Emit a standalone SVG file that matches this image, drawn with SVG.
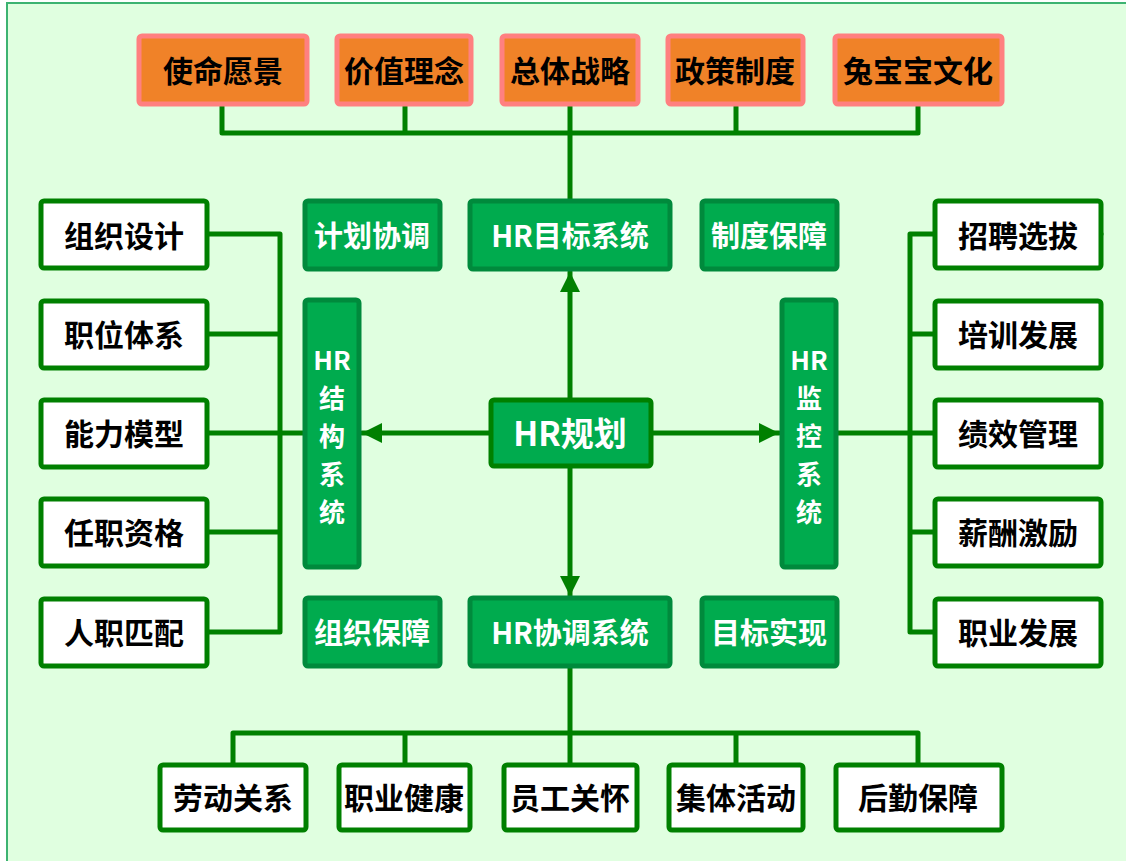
<svg xmlns="http://www.w3.org/2000/svg" width="1126" height="861" viewBox="0 0 1126 861">
<defs>
<style>
.org{fill:#F08228;stroke:#FF8080;stroke-width:5}
.gb{fill:#00AB4E;stroke:#008A3C;stroke-width:5}
.wb{fill:#FFFFFF;stroke:#008000;stroke-width:5}
.ln{fill:none;stroke:#008000;stroke-width:5;stroke-linejoin:round;stroke-linecap:round}
.tb{font-family:"Noto Sans CJK SC","Noto Sans",sans-serif;font-weight:bold;font-size:30px;fill:#000;text-anchor:middle;dominant-baseline:central}
.tw{font-family:"Noto Sans CJK SC","Noto Sans",sans-serif;font-weight:bold;font-size:29px;fill:#FFF;text-anchor:middle;dominant-baseline:central}
.tv{font-size:26px}
</style>
<marker id="ah" viewBox="0 0 10 10" refX="10" refY="5" markerWidth="4" markerHeight="4" markerUnits="strokeWidth" orient="auto">
<path d="M0,0 L10,5 L0,10 Z" fill="#008000"/>
</marker>
</defs>
<rect x="7" y="3" width="1130" height="870" fill="#E0FFE0" stroke="#3CB371" stroke-width="2"/>
<g id="connectors">
<path class="ln" d="M222,104 V133 H918 V104 M405,104 V133 M570,104 V200 M736,104 V133"/>
<path class="ln" d="M207,234 H280 V632 H207 M207,334 H280 M207,433 H304 M207,532 H280"/>
<path class="ln" d="M1101,234 H910 V632 H934 M910,334 H934 M837,433 H934 M910,532 H934"/>
<path class="ln" d="M233,764 V733 H918 V764 M405,733 V764 M570,667 V764 M736,733 V764"/>
<line class="ln" x1="570" y1="399" x2="570" y2="272" marker-end="url(#ah)"/>
<line class="ln" x1="570" y1="467" x2="570" y2="596" marker-end="url(#ah)"/>
<line class="ln" x1="490" y1="433" x2="362" y2="433" marker-end="url(#ah)"/>
<line class="ln" x1="652" y1="433" x2="779" y2="433" marker-end="url(#ah)"/>
</g>
<g id="n-smyj"><rect class="org" x="139" y="36" width="168" height="68" rx="3"/><text class="tb" x="223" y="69">使命愿景</text></g>
<g id="n-jzln"><rect class="org" x="337" y="36" width="134" height="68" rx="3"/><text class="tb" x="404" y="69">价值理念</text></g>
<g id="n-ztzl"><rect class="org" x="502" y="36" width="136" height="68" rx="3"/><text class="tb" x="570" y="69">总体战略</text></g>
<g id="n-zczd"><rect class="org" x="668" y="36" width="135" height="68" rx="3"/><text class="tb" x="735" y="69">政策制度</text></g>
<g id="n-tbbwh"><rect class="org" x="835" y="36" width="167" height="68" rx="3"/><text class="tb" x="918" y="69">兔宝宝文化</text></g>

<g id="n-jhxt"><rect class="gb" x="305" y="201" width="135" height="68" rx="3"/><text class="tw" x="372" y="234">计划协调</text></g>
<g id="n-hrmb"><rect class="gb" x="470" y="201" width="200" height="68" rx="3"/><text class="tw" x="570" y="234">HR目标系统</text></g>
<g id="n-zdbz"><rect class="gb" x="702" y="201" width="135" height="68" rx="3"/><text class="tw" x="769" y="234">制度保障</text></g>

<g id="n-hrjg"><rect class="gb" x="305" y="300" width="54" height="267" rx="3"/>
<text class="tw tv" x="332" y="358">HR</text><text class="tw tv" x="332" y="396">结</text><text class="tw tv" x="332" y="434">构</text><text class="tw tv" x="332" y="472">系</text><text class="tw tv" x="332" y="510">统</text></g>
<g id="n-hrjk"><rect class="gb" x="782" y="300" width="54" height="267" rx="3"/>
<text class="tw tv" x="809" y="358">HR</text><text class="tw tv" x="809" y="396">监</text><text class="tw tv" x="809" y="434">控</text><text class="tw tv" x="809" y="472">系</text><text class="tw tv" x="809" y="510">统</text></g>

<g id="n-hrgh"><rect x="491" y="400" width="160" height="66" rx="3" fill="#00AB4E" stroke="#008000" stroke-width="5"/><text class="tw" x="570" y="432" style="font-size:33px">HR规划</text></g>

<g id="n-zzbz"><rect class="gb" x="305" y="598" width="135" height="68" rx="3"/><text class="tw" x="372" y="631">组织保障</text></g>
<g id="n-hrxt"><rect class="gb" x="470" y="598" width="200" height="68" rx="3"/><text class="tw" x="570" y="631">HR协调系统</text></g>
<g id="n-mbsx"><rect class="gb" x="702" y="598" width="135" height="68" rx="3"/><text class="tw" x="769" y="631">目标实现</text></g>

<g id="n-zzsj"><rect class="wb" x="41" y="201" width="166" height="67" rx="3"/><text class="tb" x="124" y="234">组织设计</text></g>
<g id="n-zwtx"><rect class="wb" x="41" y="301" width="166" height="67" rx="3"/><text class="tb" x="124" y="333">职位体系</text></g>
<g id="n-nlmx"><rect class="wb" x="41" y="400" width="166" height="67" rx="3"/><text class="tb" x="124" y="432">能力模型</text></g>
<g id="n-rzzg"><rect class="wb" x="41" y="499" width="166" height="67" rx="3"/><text class="tb" x="124" y="531">任职资格</text></g>
<g id="n-rzpp"><rect class="wb" x="41" y="599" width="166" height="67" rx="3"/><text class="tb" x="124" y="631">人职匹配</text></g>

<g id="n-zpxb"><rect class="wb" x="935" y="201" width="166" height="67" rx="3"/><text class="tb" x="1018" y="234">招聘选拔</text></g>
<g id="n-pxfz"><rect class="wb" x="935" y="301" width="166" height="67" rx="3"/><text class="tb" x="1018" y="333">培训发展</text></g>
<g id="n-jxgl"><rect class="wb" x="935" y="400" width="166" height="67" rx="3"/><text class="tb" x="1018" y="432">绩效管理</text></g>
<g id="n-xcjl"><rect class="wb" x="935" y="499" width="166" height="67" rx="3"/><text class="tb" x="1018" y="531">薪酬激励</text></g>
<g id="n-zyfz"><rect class="wb" x="935" y="599" width="166" height="67" rx="3"/><text class="tb" x="1018" y="631">职业发展</text></g>

<g id="n-ldgx"><rect class="wb" x="160" y="765" width="146" height="65" rx="3"/><text class="tb" x="233" y="796">劳动关系</text></g>
<g id="n-zyjk"><rect class="wb" x="339" y="765" width="131" height="65" rx="3"/><text class="tb" x="404" y="796">职业健康</text></g>
<g id="n-yggh"><rect class="wb" x="504" y="765" width="133" height="65" rx="3"/><text class="tb" x="570" y="796">员工关怀</text></g>
<g id="n-jthd"><rect class="wb" x="669" y="765" width="134" height="65" rx="3"/><text class="tb" x="736" y="796">集体活动</text></g>
<g id="n-hqbz"><rect class="wb" x="836" y="765" width="166" height="65" rx="3"/><text class="tb" x="918" y="796">后勤保障</text></g>
</svg>
